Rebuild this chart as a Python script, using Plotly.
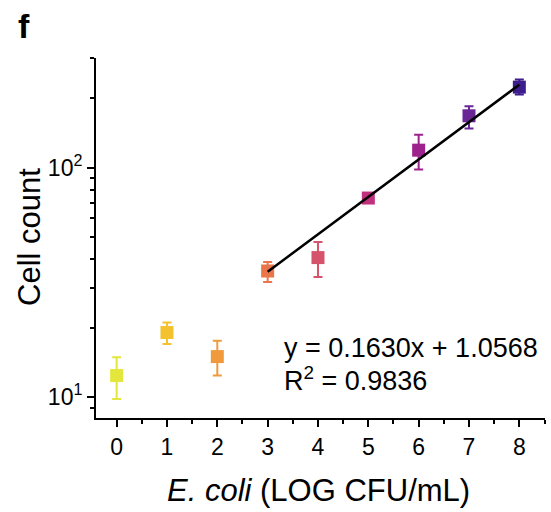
import plotly.graph_objects as go
import math

# ---- data ----
x_log_cfu = [0, 1, 2, 3, 4, 5, 6, 7, 8]
cell_mean = [12.4, 19.1, 15.0, 35.4, 40.5, 73.6, 119, 168, 224]
cell_upper = [14.9, 21.1, 17.6, 38.7, 47.3, 77, 139, 185, 242]
cell_lower = [9.8, 17.0, 12.4, 31.7, 33.3, 70, 98, 148, 208]
point_colors = ["#e3e63c", "#f4c22f", "#f09a3d", "#e97549", "#d5546b",
                "#c1307d", "#9d228e", "#6b2696", "#3d1c8e"]

fit_slope = 0.1630
fit_intercept = 1.0568
fit_r2 = 0.9836
fit_x = [3, 8]

y_major_vals = [10, 100]
y_major_text = ["10<sup>1</sup>", "10<sup>2</sup>"]
y_minor_vals = [8, 9, 20, 30, 40, 50, 60, 70, 80, 90, 200, 300]
x_ticks = [0, 1, 2, 3, 4, 5, 6, 7, 8]

FONT = "Arial, Liberation Sans, sans-serif"

L, R, T, B = 96, 6, 58, 94
W, H = 551, 512
PW, PH = W - L - R, H - T - B

fig = go.Figure()

for xi, m, up, lo, c in zip(x_log_cfu, cell_mean, cell_upper, cell_lower, point_colors):
    fig.add_trace(go.Scatter(
        x=[xi], y=[m], mode="markers",
        marker=dict(symbol="square", size=13, color=c, line=dict(width=0)),
        error_y=dict(type="data", symmetric=False, array=[up - m], arrayminus=[m - lo],
                     color=c, thickness=2, width=4.5),
        showlegend=False, hoverinfo="x+y",
    ))

fit_y = [10 ** (fit_slope * v + fit_intercept) for v in fit_x]
fig.add_trace(go.Scatter(x=fit_x, y=fit_y, mode="lines",
                         line=dict(color="black", width=2.5), showlegend=False))

fig.update_layout(
    width=W, height=H,
    margin=dict(l=L, r=R, t=T, b=B, autoexpand=False),
    paper_bgcolor="white", plot_bgcolor="white",
    font=dict(family=FONT, color="black", size=23),
    showlegend=False,
)

fig.update_xaxes(
    range=[-0.41, 8.51], automargin=False,
    tickvals=x_ticks, ticktext=[str(v) for v in x_ticks],
    showline=True, linecolor="black", linewidth=2,
    ticks="outside", ticklen=7, tickwidth=2, tickcolor="black",
    minor=dict(ticks="outside", ticklen=4, tickwidth=2, tickcolor="black", dtick=0.5, showgrid=False),
    showgrid=False, zeroline=False,
    tickfont=dict(size=23),
)

fig.update_yaxes(
    type="log", automargin=False,
    range=[math.log10(8.1), math.log10(300)],
    tickvals=y_major_vals, ticktext=y_major_text,
    showline=True, linecolor="black", linewidth=2,
    ticks="outside", ticklen=7, tickwidth=2, tickcolor="black",
    minor=dict(ticks="outside", ticklen=4, tickwidth=2, tickcolor="black",
               tickvals=y_minor_vals, showgrid=False),
    showgrid=False, zeroline=False,
    tickfont=dict(size=23),
)

def px(xp):
    return (xp - L) / PW

def py(yp):
    return (H - B - yp) / PH

# axis titles
fig.add_annotation(xref="paper", yref="paper", x=px(318), y=py(490),
                   xanchor="center", yanchor="middle", showarrow=False,
                   text="<i>E. coli</i> (LOG CFU/mL)", font=dict(size=31, family=FONT))
fig.add_annotation(xref="paper", yref="paper", x=px(29), y=py(237),
                   xanchor="center", yanchor="middle", showarrow=False, textangle=-90,
                   text="Cell count", font=dict(size=31, family=FONT))

# fit equation
fig.add_annotation(xref="paper", yref="paper", x=px(282), y=py(348),
                   xanchor="left", yanchor="middle", showarrow=False,
                   text=f"y = {fit_slope:.4f}x + {fit_intercept:.4f}",
                   font=dict(size=27, family=FONT))
fig.add_annotation(xref="paper", yref="paper", x=px(282), y=py(379),
                   xanchor="left", yanchor="middle", showarrow=False,
                   text=f"R<sup>2</sup> = {fit_r2:.4f}",
                   font=dict(size=27, family=FONT))

# panel label
fig.add_annotation(xref="paper", yref="paper", x=px(16), y=py(26),
                   xanchor="left", yanchor="middle", showarrow=False,
                   text="<b>f</b>", font=dict(size=34, family=FONT))

fig.write_html("out.html", config={"displayModeBar": False},
               post_script="document.body.style.margin='0';document.body.style.overflow='hidden';")
